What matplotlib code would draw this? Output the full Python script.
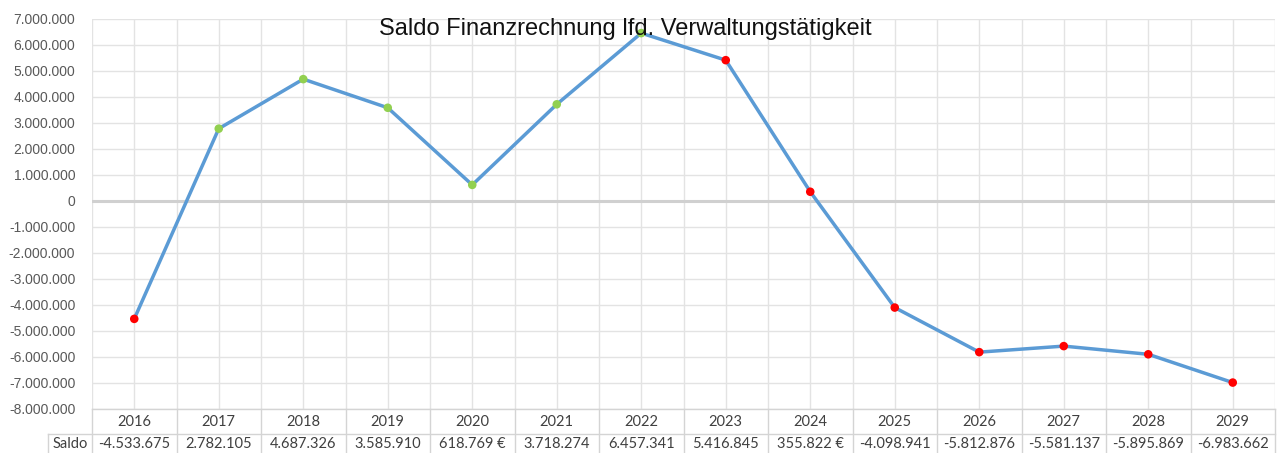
import numpy as np
from matplotlib import pyplot as plt
import matplotlib.transforms as mtransforms

years = ["2016", "2017", "2018", "2019", "2020", "2021", "2022",
         "2023", "2024", "2025", "2026", "2027", "2028", "2029"]
saldo = [-4533675, 2782105, 4687326, 3585910, 618769, 3718274, 6457341,
         5416845, 355822, -4098941, -5812876, -5581137, -5895869, -6983662]
saldo_text = ["-4.533.675", "2.782.105", "4.687.326", "3.585.910", "618.769 €",
              "3.718.274", "6.457.341", "5.416.845", "355.822 €", "-4.098.941",
              "-5.812.876", "-5.581.137", "-5.895.869", "-6.983.662"]
# marker colours as in the original sheet (green = Ist, red = Plan/negativ)
marker_colors = ["#ff0000"] + ["#92d050"] * 6 + ["#ff0000"] * 7
yticks = np.arange(-8000000, 7000001, 1000000)

W, H = 1278, 453
fig = plt.figure(figsize=(W / 100, H / 100), dpi=100)
ax = fig.add_axes([92 / W, 1 - 409 / H, (1275 - 92) / W, (409 - 19) / H])

x = np.arange(len(years))
ax.set_xlim(-0.5, len(years) - 0.5)
ax.set_ylim(-8000000, 7000000)

grid_c = "#e3e3e3"
for v in yticks:
    ax.axhline(v, color=grid_c, lw=1.0, zorder=0)
for xv in np.arange(-0.5, len(years), 0.5):
    ax.axvline(xv, color=grid_c, lw=1.0, zorder=0)
ax.axhline(0, color="#d0d0d0", lw=2.2, zorder=1)

ax.plot(x, saldo, color="#5b9bd5", lw=2.5, zorder=2)
ax.scatter(x, saldo, s=38, c=marker_colors, zorder=3, linewidths=0)

ax.set_yticks(yticks)
ax.set_yticklabels([f"{v:,}".replace(",", ".") for v in yticks],
                   fontsize=10, color="#595959", family="Liberation Sans")
ax.tick_params(axis="y", length=0, pad=12)
ax.set_xticks([])
for s in ax.spines.values():
    s.set_visible(False)

# data table under the chart
trans = mtransforms.blended_transform_factory(ax.transData, ax.transAxes)
tbl_c = "#d4d4d4"
y_top, y_mid, y_bot = 0.0, -25 / 390, -44 / 390
x_left = -0.5 - 44 / 84.5
for b in np.arange(-0.5, len(years), 1.0):
    ax.plot([b, b], [y_top, y_bot], color=tbl_c, lw=1, transform=trans, clip_on=False)
ax.plot([x_left, len(years) - 0.5], [y_mid, y_mid], color=tbl_c, lw=1,
        transform=trans, clip_on=False)
ax.plot([-0.5, len(years) - 0.5], [y_top, y_top], color=tbl_c, lw=1,
        transform=trans, clip_on=False)
ax.plot([x_left, x_left], [y_mid, y_bot], color=tbl_c, lw=1, transform=trans, clip_on=False)
for i, (yr, st) in enumerate(zip(years, saldo_text)):
    ax.text(i, (y_top + y_mid) / 2, yr, ha="center", va="center", fontsize=10.5,
            color="#404040", family="Lato", transform=trans)
    ax.text(i, (y_mid + y_bot) / 2, st, ha="center", va="center", fontsize=10.5,
            color="#404040", family="Lato", transform=trans)
ax.text((x_left - 0.5) / 2, (y_mid + y_bot) / 2, "Saldo", ha="center", va="center",
        fontsize=10.5, color="#404040", family="Lato", transform=trans)

fig.text(625 / W, 1 - 29 / H, "Saldo Finanzrechnung lfd. Verwaltungstätigkeit",
         ha="center", va="center", fontsize=17, color="#111111", family="Liberation Sans")

fig.savefig("out.png", dpi=100)
